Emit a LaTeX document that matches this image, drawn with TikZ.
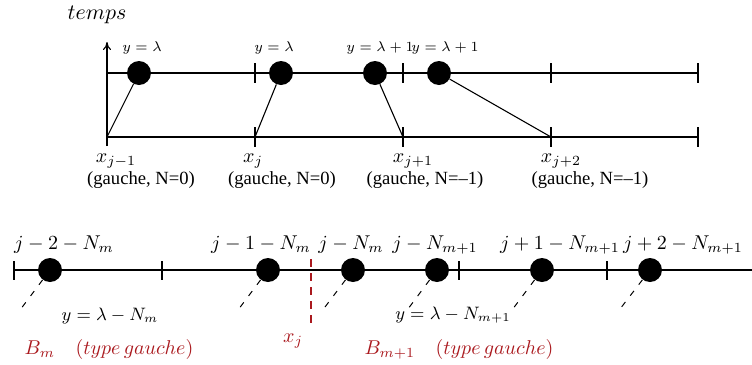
\documentclass[tikz,border=0pt]{standalone}
\usepackage{fontspec}
\setmainfont{Liberation Serif}
\usetikzlibrary{arrows.meta}
\definecolor{dred}{RGB}{170,25,30}
\begin{document}
\begin{tikzpicture}[x=0.5pt,y=-0.5pt,
  dot/.style={circle,fill=black,inner sep=0pt,minimum size=12pt},
  ln/.style={line width=0.55pt},
  lbl/.style={font=\fontsize{10}{12}\selectfont,inner sep=0pt},
  lblb/.style={font=\fontsize{9}{11}\selectfont,inner sep=0pt},
  small/.style={font=\fontsize{6.8}{8}\selectfont,inner sep=0pt},
  gauche/.style={font=\fontsize{9.3}{11}\selectfont,inner sep=0pt},
  traj/.style={line width=0.5pt, dash pattern=on 3pt off 4pt},
  redl/.style={text=dred, font=\fontsize{10.3}{13}\selectfont, inner sep=0pt}]
\useasboundingbox (0,0) rectangle (752,365);

% ---------- top diagram ----------
\node[font=\fontsize{10.95}{13}\selectfont,inner sep=0pt] (temps) at (97,15) {$temps$};
\coordinate (tl) at (107,73); \coordinate (tr) at (698,73);
\coordinate (bl) at (107,137); \coordinate (br) at (698,137);
\coordinate (ab) at (107,146); \coordinate (at) at (107,42);
\draw[ln] (tl) -- (tr);
\draw[ln] (bl) -- (br);
\draw[ln,-{To[length=4pt,width=4pt]}] (ab) -- (at);
\foreach \x in {255,403,551,698}{
  \draw[ln] (\x,63) -- (\x,83);
  \draw[ln] (\x,127) -- (\x,147);
}
\coordinate (x1) at (107,137);
\coordinate (x2) at (255,137);
\coordinate (x3) at (403,137);
\coordinate (x4) at (551,137);
\node[dot] (d1) at (139,73) {};
\node[dot] (d2) at (281,73) {};
\node[dot] (d3) at (375,73) {};
\node[dot] (d4) at (439,73) {};
\draw[ln] (d1) -- (x1);
\draw[ln] (d2) -- (x2);
\draw[ln] (d3) -- (x3);
\draw[ln] (d4) -- (x4);
\node[small] (yl1) at (142,48) {$y=\lambda$};
\node[small] (yl2) at (274,48) {$y=\lambda$};
\node[small] (yl3) at (380,48) {$y=\lambda+1$};
\node[small] (yl4) at (445,48) {$y=\lambda+1$};
\node[lbl] (xl1) at (116,161) {$x_{j-1}$};
\node[lbl] (xl2) at (253,161) {$x_{j}$};
\node[lbl] (xl3) at (413,161) {$x_{j+1}$};
\node[lbl] (xl4) at (561,161) {$x_{j+2}$};
\node[gauche] (g1) at (141,180) {(gauche, N=0)};
\node[gauche] (g2) at (282,180) {(gauche, N=0)};
\node[gauche] (g3) at (425,180) {(gauche, N=\textendash1)};
\node[gauche] (g4) at (590,180) {(gauche, N=\textendash1)};

% ---------- bottom diagram ----------
\coordinate (ll) at (14,270); \coordinate (lr) at (752,270);
\draw[ln] (ll) -- (lr);
\foreach \x in {14,162,459,607}{
  \draw[line width=0.8pt] (\x,261) -- (\x,280);
}
\coordinate (rt) at (311,259); \coordinate (rb) at (311,328);
\draw[dred,line width=0.6pt,dash pattern=on 4pt off 3pt] (rt) -- (rb);
\node[dot] (b1) at (50,270) {};
\node[dot] (b2) at (268,270) {};
\node[dot] (b3) at (353,270) {};
\node[dot] (b4) at (437,270) {};
\node[dot] (b5) at (542,270) {};
\node[dot] (b6) at (650,270) {};
\coordinate (e1) at (20,310);
\coordinate (e2) at (238,310);
\coordinate (e3) at (322,311);
\coordinate (e4) at (405,313);
\coordinate (e5) at (512,310);
\coordinate (e6) at (620,309);
\draw[traj] (b1) -- (e1);
\draw[traj] (b2) -- (e2);
\draw[traj] (b3) -- (e3);
\draw[traj] (b4) -- (e4);
\draw[traj] (b5) -- (e5);
\draw[traj] (b6) -- (e6);
\node[lbl] (t1) at (64,245) {$j-2-N_m$};
\node[lbl] (t2) at (261,245) {$j-1-N_m$};
\node[lbl] (t3) at (351,245) {$j-N_m$};
\node[lbl] (t4) at (435,245) {$j-N_{m+1}$};
\node[lbl] (t5) at (560,245) {$j+1-N_{m+1}$};
\node[lbl] (t6) at (683,245) {$j+2-N_{m+1}$};
\node[lblb] (ya) at (110,316) {$y=\lambda-N_m$};
\node[lblb] (yb) at (453,315) {$y=\lambda-N_{m+1}$};
\node[redl] (bm) at (109,349) {$B_m\quad(type\,gauche)$};
\node[redl] (xj) at (293,341) {$x_j$};
\node[redl] (bm1) at (459,349) {$B_{m+1}\quad(type\,gauche)$};
\end{tikzpicture}
\end{document}
